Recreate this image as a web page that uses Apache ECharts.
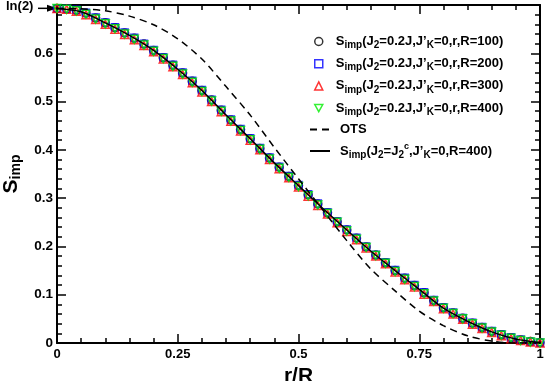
<!DOCTYPE html>
<html>
<head>
<meta charset="utf-8">
<script src="https://cdn.jsdelivr.net/npm/echarts@6/dist/echarts.min.js"></script>
<style>
html,body{margin:0;padding:0;background:#fff;}
#main{width:545px;height:381px;}
</style>
</head>
<body>
<div id="main"></div>
<script>
// r/R sample points of the S_imp markers
var rPts = [0,0.02,0.04,0.06,0.08,0.1,0.12,0.14,0.16,0.18,0.2,0.22,0.24,0.26,0.28,0.3,0.32,0.34,0.36,0.38,0.4,0.42,0.44,0.46,0.48,0.5,
    0.52,0.54,0.56,0.58,0.6,0.62,0.64,0.66,0.68,0.7,0.72,0.74,0.76,0.78,0.8,0.82,0.84,0.86,0.88,0.9,0.92,0.94,0.96,0.98,1];
var s100 = [0.693,0.692,0.689,0.683,0.673,0.663,0.653,0.642,0.631,0.619,0.606,0.591,0.575,0.559,0.542,0.523,0.503,0.482,0.462,0.442,0.423,0.403,0.383,0.364,0.345,0.326,
    0.307,0.288,0.270,0.251,0.234,0.217,0.199,0.182,0.166,0.150,0.134,0.119,0.104,0.088,0.073,0.062,0.051,0.041,0.032,0.024,0.017,0.011,0.006,0.003,0.001];
var s200 = [0.693,0.692,0.690,0.684,0.674,0.664,0.654,0.643,0.632,0.620,0.607,0.592,0.576,0.560,0.543,0.524,0.504,0.483,0.463,0.443,0.424,0.404,0.384,0.365,0.346,0.327,
    0.308,0.289,0.271,0.252,0.235,0.218,0.200,0.183,0.167,0.151,0.135,0.120,0.105,0.089,0.074,0.063,0.052,0.042,0.033,0.025,0.018,0.012,0.007,0.003,0.001];
var s300 = [0.693,0.691,0.687,0.680,0.670,0.660,0.650,0.639,0.628,0.616,0.603,0.588,0.572,0.556,0.539,0.520,0.500,0.479,0.459,0.439,0.420,0.400,0.380,0.361,0.342,0.323,
    0.304,0.285,0.267,0.249,0.231,0.214,0.197,0.180,0.164,0.147,0.131,0.116,0.101,0.086,0.071,0.060,0.049,0.039,0.030,0.022,0.015,0.009,0.005,0.002,0.000];
var s400 = [0.693,0.691,0.688,0.681,0.671,0.661,0.651,0.640,0.629,0.617,0.604,0.589,0.573,0.557,0.540,0.521,0.501,0.480,0.460,0.440,0.421,0.401,0.381,0.362,0.343,0.324,
    0.305,0.286,0.268,0.250,0.232,0.215,0.198,0.181,0.165,0.148,0.132,0.117,0.102,0.087,0.072,0.061,0.050,0.040,0.031,0.023,0.016,0.010,0.005,0.002,0.000];
// curves
var rLine = [0,0.05,0.1,0.15,0.2,0.25,0.3,0.35,0.4,0.45,0.5,0.55,0.6,0.65,0.7,0.75,0.8,0.85,0.9,0.95,1];
var otsVals = [0.693,0.692,0.688,0.677,0.659,0.630,0.588,0.531,0.472,0.405,0.340,0.276,0.212,0.153,0.108,0.066,0.036,0.015,0.004,0.000,0.000];
var critVals = [0.693,0.686,0.663,0.637,0.606,0.567,0.523,0.472,0.423,0.373,0.326,0.279,0.234,0.190,0.150,0.111,0.072,0.045,0.023,0.008,0.001];
var lnTwo = 0.6931;

function pairs(xs, ys){
    var out = [];
    for(var i = 0; i < xs.length; i++) out.push([xs[i], ys[i]]);
    return out;
}

var font = 'Liberation Sans, Arial, sans-serif';
var legendText = {
    'R100':'{m|S}{s|imp}{m|(J}{s|2}{m|=0.2J,J’}{s|K}{m|=0,r,R=100)}',
    'R200':'{m|S}{s|imp}{m|(J}{s|2}{m|=0.2J,J’}{s|K}{m|=0,r,R=200)}',
    'R300':'{m|S}{s|imp}{m|(J}{s|2}{m|=0.2J,J’}{s|K}{m|=0,r,R=300)}',
    'R400':'{m|S}{s|imp}{m|(J}{s|2}{m|=0.2J,J’}{s|K}{m|=0,r,R=400)}',
    'OTS':'{m|OTS}',
    'crit':'{m|S}{s|imp}{m|(J}{s|2}{m|=J}{s|2}{p|c}{m|,J’}{s|K}{m|=0,R=400)}'
};
var legendRich = {
    m:{fontFamily:font, fontWeight:'bold', fontSize:13, color:'#000', lineHeight:18},
    s:{fontFamily:font, fontWeight:'bold', fontSize:10, color:'#000', lineHeight:10, verticalAlign:'bottom'},
    p:{fontFamily:font, fontWeight:'bold', fontSize:9, color:'#000', lineHeight:9, verticalAlign:'top'}
};
var colors = {R100:'#000', R200:'#0000ff', R300:'#ff0000', R400:'#00ee00'};

var myChart = echarts.init(document.getElementById('main'));

function markerSeries(name, data, symbol, size, rot){
    return {
        name:name, type:'scatter', data:data, symbol:symbol, symbolSize:size, symbolRotate:rot || 0,
        itemStyle:{color:'rgba(0,0,0,0)', borderColor:colors[name], borderWidth:1.5}, z:2
    };
}
function legendItem(name, icon){
    return {name:name, icon:icon,
        itemStyle:{color:'rgba(0,0,0,0)', borderColor:colors[name], borderWidth:1.5}};
}

var axisCommon = {
    type:'value', min:0, max:1, interval:0.25,
    axisLine:{show:true, onZero:false, lineStyle:{color:'#000', width:2}},
    axisTick:{show:true, inside:true, length:9, lineStyle:{color:'#000', width:1.5}},
    minorTick:{show:true, splitNumber:5, length:5, lineStyle:{color:'#000', width:1.5}},
    splitLine:{show:false}
};

myChart.setOption({
    animation:false,
    grid:{left:57, right:5, top:5, bottom:38, outerBoundsMode:'none', containLabel:false},
    legend:[{
        orient:'vertical', left:309, top:30, itemWidth:8, itemHeight:8, itemGap:6.7, align:'left',
        data:[legendItem('R100','circle'), legendItem('R200','rect'), legendItem('R300','triangle'),
            legendItem('R400','path://M0,0 L10,0 L5,9 Z')],
        formatter:function(n){ return legendText[n]; },
        textStyle:{padding:[0,0,0,8], rich:legendRich}
    },{
        orient:'vertical', left:304, top:118, itemWidth:20, itemHeight:8, itemGap:6, align:'left',
        data:['OTS','crit'],
        formatter:function(n){ return legendText[n]; },
        textStyle:{padding:[0,0,0,5], rich:legendRich}
    }],
    xAxis:[
        echarts.util.merge({
            position:'bottom',
            name:'r/R', nameLocation:'middle', nameGap:11,
            nameTextStyle:{fontFamily:font, fontWeight:'bold', fontSize:21, color:'#000'},
            axisLabel:{fontFamily:font, fontWeight:'bold', fontSize:13, color:'#000', margin:5}
        }, axisCommon, true),
        echarts.util.merge({position:'top', axisLabel:{show:false}}, axisCommon, true)
    ],
    yAxis:[
        echarts.util.merge({
            position:'left', min:0, max:0.7, interval:0.1,
            name:'{b|S}{c|imp}', nameLocation:'middle', nameGap:32, nameRotate:90,
            nameTextStyle:{rich:{
                b:{fontFamily:font, fontWeight:'bold', fontSize:21, color:'#000', lineHeight:24},
                c:{fontFamily:font, fontWeight:'bold', fontSize:14, color:'#000', lineHeight:14, verticalAlign:'bottom'}
            }},
            minorTick:{splitNumber:5},
            axisLabel:{fontFamily:font, fontWeight:'bold', fontSize:13.5, color:'#000', margin:4,
                formatter:function(v){ return v > 0.65 ? '' : String(Math.round(v*10)/10); }}
        }, axisCommon, false),
        echarts.util.merge({position:'right', min:0, max:0.7, interval:0.1, minorTick:{splitNumber:5}, axisLabel:{show:false}}, axisCommon, false)
    ],
    series:[
        markerSeries('R100', pairs(rPts, s100), 'circle', 8),
        markerSeries('R200', pairs(rPts, s200), 'rect', 7),
        markerSeries('R300', pairs(rPts, s300), 'triangle', 8),
        markerSeries('R400', pairs(rPts, s400), 'triangle', 8, 180),
        {name:'OTS', type:'line', data:pairs(rLine, otsVals), smooth:0.3, symbol:'none',
            lineStyle:{color:'#000', width:1.5, type:[7,5]}, itemStyle:{color:'rgba(0,0,0,0)', borderWidth:0}, z:3},
        {name:'crit', type:'line', data:pairs(rLine, critVals), smooth:0.3, symbol:'none',
            lineStyle:{color:'#000', width:1.5}, itemStyle:{color:'rgba(0,0,0,0)', borderWidth:0}, z:4}
    ]
});

// ln(2) arrow annotation at the top of the y axis
var yp = myChart.convertToPixel({yAxisIndex:0}, lnTwo);
myChart.setOption({
    graphic:[
        {type:'text', left:6, top:yp - 8, style:{text:'ln(2)', fontFamily:font, fontWeight:'bold', fontSize:13, fill:'#000'}},
        {type:'line', shape:{x1:38, y1:yp, x2:50, y2:yp}, style:{stroke:'#000', lineWidth:1.5}},
        {type:'polygon', shape:{points:[[57,yp],[47,yp-3.5],[47,yp+3.5]]}, style:{fill:'#000'}}
    ]
});
</script>
</body>
</html>
